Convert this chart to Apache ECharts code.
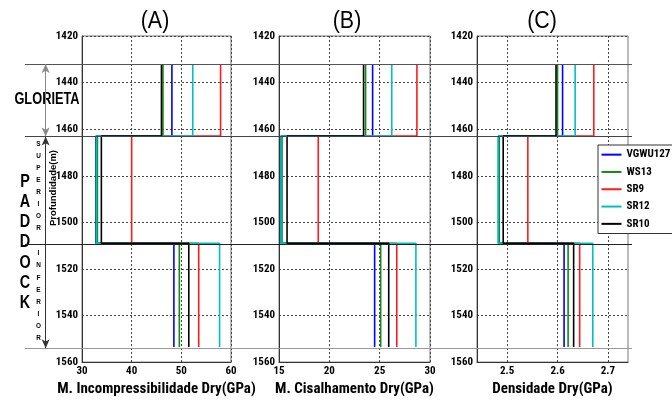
<!DOCTYPE html>
<html>
<head>
<meta charset="utf-8">
<script src="https://cdn.jsdelivr.net/npm/echarts@6/dist/echarts.min.js"></script>
<style>
  html, body { margin: 0; padding: 0; background: #fff; overflow: hidden; }
  #chart { width: 672px; height: 402px; }
</style>
</head>
<body>
<div id="chart"></div>
<script>
// limites das unidades (m): topo Glorieta, Glorieta/Paddock, superior/inferior, base
const limites = [1432, 1463, 1509, 1553.5]
const pocos = ['VGWU127', 'WS13', 'SR9', 'SR12', 'SR10']
const cores = ['#0000ff', '#138a13', '#ff1a1a', '#00bfbf', '#000000']

// valores por poço: [Glorieta, Paddock superior, Paddock inferior]
const kDry = [[48.1, 32.8, 48.5], [46.3, 33.1, 49.6], [57.9, 40.0, 53.5], [52.3, 32.9, 57.7], [46.0, 33.9, 51.5]]
const muDry = [[24.3, 15.2, 24.5], [23.6, 15.3, 25.1], [28.7, 18.9, 26.7], [26.2, 15.2, 28.6], [23.4, 15.8, 25.9]]
const rhoDry = [[2.610, 2.483, 2.613], [2.600, 2.484, 2.621], [2.672, 2.541, 2.644], [2.635, 2.482, 2.670], [2.597, 2.492, 2.632]]

// eixos
const profMin = 1420, profMax = 1560, profPasso = 20
const titulos = ['(A)', '(B)', '(C)']
const nomesX = ['M. Incompressibilidade Dry(GPa)', 'M. Cisalhamento Dry(GPa)', 'Densidade Dry(GPa)']
const limX = [[30, 60], [15, 30], [2.44, 2.74]]
const passoX = [10, 5, null]
const ticksC = [2.5, 2.6, 2.7]

const NARROW = '"Roboto Condensed", "Liberation Sans Narrow", "Liberation Sans", sans-serif'
const SANS = '"Liberation Sans", Arial, sans-serif'

// posicao dos paineis
const paineis = [
  { left: 82, width: 149 },
  { left: 279, width: 151 },
  { left: 477, width: 151 }
]
const TOPO = 36, ALTURA = 327.5

// transforma os 3 valores em degraus ao longo da profundidade
const degraus = (v) => [
  [v[0], limites[0]], [v[0], limites[1]],
  [v[1], limites[1]], [v[1], limites[2]],
  [v[2], limites[2]], [v[2], limites[3]]
]

const gradeTracejada = { show: true, lineStyle: { color: '#444', type: [2, 2], width: 1 } }
const rotulo = { color: '#000', fontFamily: NARROW, fontWeight: 'bold', fontSize: 11 }

const grid = paineis.map(p => ({
  left: p.left, width: p.width, top: TOPO, height: ALTURA,
  show: true, borderColor: '#777', borderWidth: 1, backgroundColor: 'transparent'
}))
// grade de sobreposicao para os limites e setas (largura da figura)
grid.push({ left: 25, width: 607, top: TOPO, height: ALTURA })

const xAxis = limX.map((lim, i) => {
  const ax = {
    gridIndex: i, type: 'value', min: lim[0], max: lim[1],
    name: nomesX[i], nameLocation: 'middle', nameGap: 17,
    nameTextStyle: { color: '#000', fontFamily: NARROW, fontWeight: 'bold', fontSize: 15 },
    axisLine: { show: true, lineStyle: { color: '#333', width: 1 } },
    axisTick: { show: false },
    axisLabel: Object.assign({ margin: 4 }, rotulo),
    splitLine: gradeTracejada
  }
  if (passoX[i]) {
    ax.interval = passoX[i]
  } else {
    ax.axisLabel.customValues = ticksC
    ax.axisTick.customValues = ticksC
  }
  return ax
})
xAxis.push({ gridIndex: 3, type: 'value', min: 0, max: 1, show: false })

const yAxis = paineis.map((p, i) => ({
  gridIndex: i, type: 'value', inverse: true,
  min: profMin, max: profMax, interval: profPasso,
  axisLine: { show: true, lineStyle: { color: '#333', width: 1 } },
  axisTick: { show: false },
  axisLabel: Object.assign({ margin: 4, formatter: (v) => String(v) }, rotulo),
  splitLine: gradeTracejada
}))
yAxis.push({ gridIndex: 3, type: 'value', inverse: true, min: profMin, max: profMax, show: false })

const dados = [kDry, muDry, rhoDry]
const series = []
dados.forEach((tab, i) => {
  pocos.forEach((nome, j) => {
    series.push({
      name: nome, type: 'line', xAxisIndex: i, yAxisIndex: i,
      data: degraus(tab[j]), symbol: 'none', silent: true,
      lineStyle: { color: cores[j], width: 1.6 }, itemStyle: { color: cores[j] }
    })
  })
})

// linhas de limite atravessando a figura
const coresLimite = ['#555', '#444', '#222', '#999']
series.push({
  type: 'line', xAxisIndex: 3, yAxisIndex: 3, data: [], silent: true,
  markLine: {
    silent: true, symbol: 'none', animation: false, label: { show: false },
    data: limites.map((d, i) => ({ yAxis: d, lineStyle: { color: coresLimite[i], width: 1.2, type: 'solid' } }))
  }
})
// setas das unidades
const xSeta = 0.034
series.push({
  type: 'line', xAxisIndex: 3, yAxisIndex: 3, data: [], silent: true,
  markLine: {
    silent: true, symbol: ['arrow', 'arrow'], symbolSize: [6, 9], animation: false, label: { show: false },
    data: [
      [{ coord: [xSeta, limites[0]], lineStyle: { color: '#888', width: 1, type: 'solid' } }, { coord: [xSeta, limites[1]] }],
      [{ coord: [xSeta, limites[1]], lineStyle: { color: '#333', width: 1, type: 'solid' } }, { coord: [xSeta, limites[3]] }]
    ]
  }
})

const texto = (x, y, txt, font, extra, sx) => ({
  type: 'text', x: x, y: y, silent: true, scaleX: sx || 1,
  style: Object.assign({ text: txt, font: font, fill: '#000', textAlign: 'center', textVerticalAlign: 'middle' }, extra || {})
})

const S = 0.8  // compressao horizontal dos textos livres
const graphic = [
  texto(155, 22, titulos[0], '23px ' + SANS, null, 0.93),
  texto(347, 22, titulos[1], '23px ' + SANS, null, 0.93),
  texto(542, 22, titulos[2], '23px ' + SANS, null, 0.93),
  texto(47, 100, 'GLORIETA', 'bold 16px ' + SANS, null, S),
  texto(25, 242.5, 'PADDOCK'.split('').join('\n'), 'bold 18px ' + SANS, { lineHeight: 20.2 }, S),
  texto(38.5, 185.7, 'SUPERIOR'.split('').join('\n'), 'bold 8px ' + SANS, { lineHeight: 12.1 }, S),
  texto(38.5, 295.5, 'INFERIOR'.split('').join('\n'), 'bold 8px ' + SANS, { lineHeight: 12.1 }, S),
  Object.assign(texto(53.5, 188, 'Profundidade(m)', 'bold 9.5px ' + SANS), { rotation: Math.PI / 2 })
]

const chart = echarts.init(document.getElementById('chart'), null, { renderer: 'canvas' })
chart.setOption({
  animation: false,
  backgroundColor: '#fff',
  grid: grid,
  xAxis: xAxis,
  yAxis: yAxis,
  legend: {
    orient: 'vertical', left: 598, top: 145,
    data: pocos, icon: 'rect', itemWidth: 20, itemHeight: 2, itemGap: 5,
    padding: [3.5, 3, 3.5, 3.5],
    backgroundColor: '#fff', borderColor: '#333', borderWidth: 1, borderRadius: 0,
    textStyle: { color: '#000', fontFamily: NARROW, fontWeight: 'bold', fontSize: 11, lineHeight: 12.3 }
  },
  series: series,
  graphic: graphic
})
</script>
</body>
</html>
